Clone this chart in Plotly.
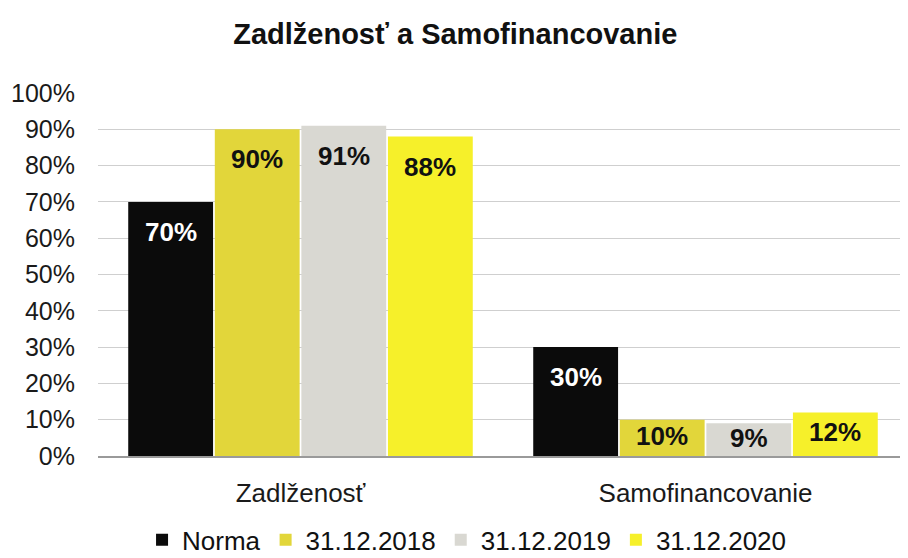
import plotly.graph_objects as go

categories = ["Zadlženosť", "Samofinancovanie"]
series_names = ["Norma", "31.12.2018", "31.12.2019", "31.12.2020"]
norma = [70, 30]
v2018 = [90, 10]
v2019 = [91, 9]
v2020 = [88, 12]
series_values = [norma, v2018, v2019, v2020]
colors = ["#0b0b0b", "#e2d63a", "#d9d8d2", "#f6f02a"]
text_colors = ["#ffffff", "#111111", "#111111", "#111111"]
y_ticks = [0, 10, 20, 30, 40, 50, 60, 70, 80, 90, 100]

bargap = 0.145
bargroupgap = 0.02
n = len(series_names)
FONT = "Liberation Sans, Arial"

fig = go.Figure()
for name, vals, col in zip(series_names, series_values, colors):
    fig.add_trace(go.Bar(x=categories, y=vals, name=name, marker=dict(color=col, line=dict(width=0)),
                         hoverinfo="skip"))

slot = (1 - bargap) / n
for i, (vals, tc) in enumerate(zip(series_values, text_colors)):
    for j, v in enumerate(vals):
        x = j + (-(n - 1) / 2 + i) * slot
        if v >= 20:
            y, shift = v, -30
        else:
            y, shift = v / 2, 2
        fig.add_annotation(x=x, y=y, yshift=shift, text=f"<b>{v}%</b>", showarrow=False,
                           yanchor="middle", xanchor="center",
                           font=dict(family=FONT, size=26, color=tc))

fig.update_layout(
    width=900, height=550,
    paper_bgcolor="white", plot_bgcolor="white",
    barmode="group", bargap=bargap, bargroupgap=bargroupgap,
    margin=dict(l=90, r=0, t=85, b=102, autoexpand=False),
    title=dict(text="<b>Zadlženosť a Samofinancovanie</b>", x=0.497, xanchor="center",
               y=0.953, yanchor="middle",
               font=dict(family=FONT, size=29, color="#111111")),
    font=dict(family=FONT, size=25, color="#1a1a1a"),
    legend=dict(orientation="h", x=0.455, xanchor="center", y=-0.231, yanchor="middle",
                font=dict(size=26, color="#111111"), itemwidth=30, traceorder="normal"),
    showlegend=True,
)
fig.update_yaxes(range=[0, 100], tickvals=y_ticks, ticktext=[f"{t}%" for t in y_ticks],
                 showgrid=True, gridcolor="#cfcfcf", gridwidth=1, zeroline=False,
                 showline=False, ticks="", ticklabelstandoff=22,
                 tickfont=dict(size=25, color="#1a1a1a"))
fig.update_xaxes(showline=True, linecolor="#9a9a9a", linewidth=1.5, ticks="",
                 tickfont=dict(size=26, color="#1a1a1a"), ticklabelstandoff=13)

fig.write_html("out.html")
